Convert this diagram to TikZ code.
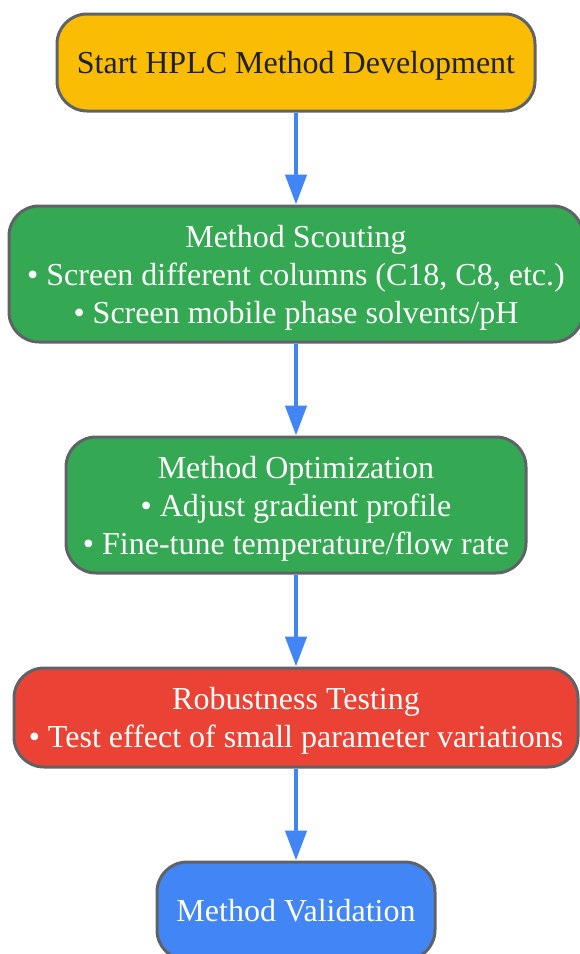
\documentclass[tikz,border=0pt]{standalone}
\usepackage{fontspec}
\setmainfont{Liberation Serif}
\usepackage{tikz}
\definecolor{gyellow}{HTML}{FBBC04}
\definecolor{ggreen}{HTML}{34A853}
\definecolor{gred}{HTML}{EA4335}
\definecolor{gblue}{HTML}{4285F4}
\definecolor{gborder}{HTML}{5F6368}
\definecolor{gtext}{HTML}{202124}
\tikzset{
  stage/.style={rectangle,rounded corners=30pt,draw=gborder,line width=3pt,
    align=center,text=white,inner sep=0pt,text depth=0pt,
    font=\fontsize{32}{38}\selectfont},
  oneline/.style={text height=26pt,text depth=5pt},
  flow/.style={draw=gblue,line width=4.5pt,-{Triangle[length=30pt,width=21pt]}}
}
\usetikzlibrary{arrows.meta}
\begin{document}
\begin{tikzpicture}[x=1pt,y=-1pt]
\useasboundingbox (0,0) rectangle (580,954);
\node[stage,oneline,fill=gyellow,text=gtext,minimum width=478pt,minimum height=97pt] (start) at (296,62.5) {Start HPLC Method Development};
\node[stage,fill=ggreen,minimum width=574pt,minimum height=136pt] (scout) at (296,274) {Method Scouting\\\textbullet{} Screen different columns (C18, C8, etc.)\\\textbullet{} Screen mobile phase solvents/pH};
\node[stage,fill=ggreen,minimum width=460pt,minimum height=136pt] (optim) at (296,505) {Method Optimization\\\textbullet{} Adjust gradient profile\\\textbullet{} Fine-tune temperature/flow rate};
\node[stage,fill=gred,minimum width=564pt,minimum height=99pt] (robust) at (296,717.5) {Robustness Testing\\\textbullet{} Test effect of small parameter variations};
\node[stage,oneline,fill=gblue,minimum width=278pt,minimum height=98pt] (valid) at (296,911) {Method Validation};

\draw[flow] (start) -- (scout);
\draw[flow] (scout) -- (optim);
\draw[flow] (optim) -- (robust);
\draw[flow] (robust) -- (valid);
\end{tikzpicture}
\end{document}
